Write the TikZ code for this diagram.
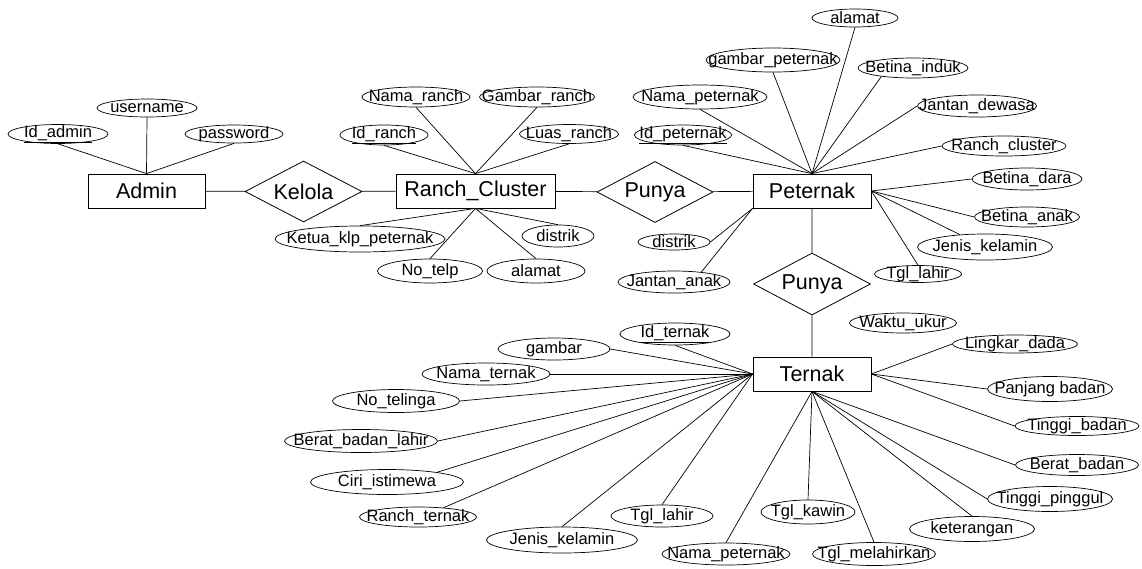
\documentclass[tikz,border=0pt]{standalone}
\usepackage{fontspec}
\setmainfont{Liberation Sans}
\usetikzlibrary{shapes.geometric}

\tikzset{
  every path/.style={line width=0.7pt},
  entity/.style={draw, rectangle, line width=0.8pt, minimum height=34pt, inner sep=0pt,
    font=\fontsize{21.5}{24}\selectfont},
  relation/.style={draw, diamond, line width=0.8pt, inner sep=0pt},
  reltext/.style={font=\fontsize{21.5}{24}\selectfont, inner sep=0pt},
  attr/.style={draw, ellipse, line width=0.7pt, inner sep=0pt},
  attrtext/.style={font=\fontsize{16.5}{18}\selectfont, inner sep=0pt},
}

% attribute ellipse: name, x, y, width, height, text
\newcommand\attrib[6]{%
  \node[attr, minimum width=#4pt, minimum height=#5pt,
        label={[attrtext]center:#6}] (#1) at (#2,#3) {};}
% relationship diamond: name, x, y, width, height, text
\newcommand\relship[6]{%
  \node[relation, minimum width=#4pt, minimum height=#5pt,
        label={[reltext]center:#6}] (#1) at (#2,#3) {};}

\begin{document}
\begin{tikzpicture}[x=1pt, y=-1pt]
\useasboundingbox (0,0) rectangle (1142,568);

% entities
\node[entity, minimum width=117pt] (admin) at (146.5,191) {Admin};
\node[entity, minimum width=159pt] (ranch) at (475.5,191) {Ranch\_Cluster};
\node[entity, minimum width=118pt] (pet)   at (812,191)   {Peternak};
\node[entity, minimum width=118pt] (ter)   at (812,374)   {Ternak};

% relationships
\relship{kelola}{303.5}{191.5}{117}{61}{Kelola}
\relship{punyaA}{655}{192}{116}{61}{Punya}
\relship{punyaB}{812}{284}{117}{62}{Punya}

\draw (admin) -- (kelola) -- (ranch) -- (punyaA) -- (pet) -- (punyaB) -- (ter);

% Admin attributes
\attrib{ida}{58}{134}{100}{19}{\underline{Id\_admin}}
\attrib{usr}{147}{108}{100}{18}{username}
\attrib{pwd}{234}{134}{98}{18}{password}
\foreach \a in {ida,usr,pwd} \draw (\a.south) -- (admin.north);

% Ranch_Cluster attributes
\attrib{nr}{416}{97}{108}{20}{Nama\_ranch}
\attrib{gr}{537}{97}{115}{20}{Gambar\_ranch}
\attrib{idr}{384}{135}{88}{20}{\underline{Id\_ranch}}
\attrib{lr}{569}{134}{99}{19}{Luas\_ranch}
\attrib{kk}{360}{239}{170}{26}{Ketua\_klp\_peternak}
\attrib{dr}{558}{236}{72}{22}{distrik}
\attrib{nt}{430}{271}{105}{24}{No\_telp}
\attrib{ar}{536}{271}{98}{24}{alamat}
\foreach \a in {nr,gr,idr,lr} \draw (\a.south) -- (ranch.north);
\foreach \a in {kk,dr,nt,ar} \draw (\a.north) -- (ranch.south);

% Peternak attributes
\attrib{ap}{855}{18}{86}{18}{alamat}
\attrib{gp}{773}{60}{134}{24}{gambar\_peternak}
\attrib{np}{700}{97}{134}{24}{Nama\_peternak}
\attrib{idp}{683}{135}{97}{20}{\underline{Id\_peternak}}
\attrib{bi}{913}{68}{110}{20}{Betina\_induk}
\attrib{jd}{977}{106}{119}{22}{Jantan\_dewasa}
\attrib{rc}{1004}{146}{124}{20}{Ranch\_cluster}
\attrib{bd}{1027}{179}{110}{22}{Betina\_dara}
\attrib{ba}{1027}{217}{105}{20}{Betina\_anak}
\attrib{jk}{985}{247}{135}{26}{Jenis\_kelamin}
\attrib{tl}{918}{274}{87}{17}{Tgl\_lahir}
\attrib{dp}{674}{242}{72}{16}{distrik}
\attrib{ja}{674}{282}{112}{22}{Jantan\_anak}
\foreach \a in {ap,gp,np,idp} \draw (\a.south) -- (pet.north);
\draw (bi.195) -- (pet.north);
\foreach \a in {jd,rc} \draw (\a.west) -- (pet.north);
\foreach \a in {bd,ba} \draw (\a.west) -- (pet.east);
\draw (jk) -- (pet.east);
\draw (tl.north) -- (pet.east);
\draw (dp.east) -- (pet.south west);
\draw (ja.20) -- (pet.south west);

% Ternak attributes
\attrib{idt}{675}{334}{110}{22}{\underline{Id\_ternak}}
\attrib{gb}{554}{349}{112}{22}{gambar}
\attrib{ntk}{486}{374}{128}{22}{Nama\_ternak}
\attrib{ntl}{396}{401}{127}{23}{No\_telinga}
\attrib{bbl}{361}{441}{153}{23}{Berat\_badan\_lahir}
\attrib{ci}{387}{482}{153}{25}{Ciri\_istimewa}
\attrib{rt}{418}{517}{117}{20}{Ranch\_ternak}
\attrib{jkt}{562}{540}{151}{26}{Jenis\_kelamin}
\attrib{tlt}{662}{516}{102}{22}{Tgl\_lahir}
\attrib{npt}{726}{554}{128}{22}{Nama\_peternak}
\attrib{tk}{808}{512}{94}{24}{Tgl\_kawin}
\attrib{tm}{874}{554}{123}{23}{Tgl\_melahirkan}
\attrib{ket}{972}{529}{125}{25}{keterangan}
\attrib{tp}{1050}{499}{125}{25}{Tinggi\_pinggul}
\attrib{bb}{1077}{465}{123}{21}{Berat\_badan}
\attrib{tb}{1077}{426}{124}{19}{Tinggi\_badan}
\attrib{pb}{1050}{389}{125}{25}{Panjang badan}
\attrib{ld}{1015}{344}{125}{18}{Lingkar\_dada}
\attrib{wu}{903}{323}{107}{20}{Waktu\_ukur}
\draw (idt.south) -- (ter.west);
\foreach \a in {gb,ntk,ntl,bbl} \draw (\a.east) -- (ter.west);
\draw (ci.11) -- (ter.west);
\draw (rt.20) -- (ter.west);
\foreach \a in {jkt,tlt} \draw (\a.north) -- (ter.west);
\foreach \a in {npt,tk,tm,ket} \draw (\a.north) -- (ter.south);
\foreach \a in {tp,bb} \draw (\a.west) -- (ter.south);
\foreach \a in {tb,pb,ld} \draw (\a.west) -- (ter.east);

\end{tikzpicture}
\end{document}
